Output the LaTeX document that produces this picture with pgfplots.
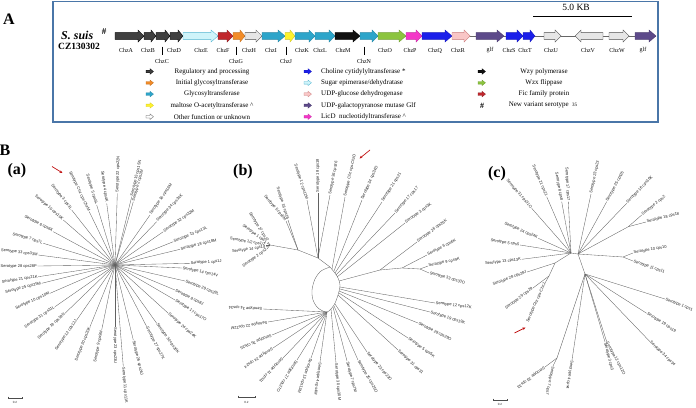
\documentclass[border=0pt]{standalone}
\usepackage{fontspec}
\setmainfont{Liberation Serif}
\newfontfamily\sfl{Liberation Sans}
\usepackage{pgfplots}
\pgfplotsset{compat=1.18}
\usetikzlibrary{arrows.meta}
\definecolor{cReg}{HTML}{404040}
\definecolor{cSug}{HTML}{CFF4FA}
\definecolor{cSugD}{HTML}{4FB3CF}
\definecolor{cFic}{HTML}{C1272D}
\definecolor{cIni}{HTML}{F28C28}
\definecolor{cOth}{HTML}{E6E6E6}
\definecolor{cGT}{HTML}{2DA5CA}
\definecolor{cYel}{HTML}{FFF22E}
\definecolor{cWzy}{HTML}{111111}
\definecolor{cWzx}{HTML}{8CC43F}
\definecolor{cLic}{HTML}{F436C8}
\definecolor{cCho}{HTML}{1B1FEA}
\definecolor{cUdg}{HTML}{F9C6C6}
\definecolor{cUdgD}{HTML}{C87878}
\definecolor{cGlf}{HTML}{5D4A8A}
\definecolor{cBox}{HTML}{4A76A8}
\definecolor{cRed}{HTML}{C01010}
\tikzset{tr/.style={draw=black!62,line width=0.35pt},
 tl/.style={font=\sfl\fontsize{4}{4.5}\selectfont,inner sep=0.6pt,text=black!88}}
% gene arrow: x start, x end, head start, fill, draw
\newcommand\gene[5]{\addplot[fill=#4,draw=#5,line width=0.35pt] coordinates {(#1,32.6) (#3,32.6) (#3,30) (#2,36) (#3,42) (#3,39.4) (#1,39.4)} -- cycle;}
\newcommand\gl[3]{\node[font=\fontsize{6}{7}\selectfont,inner sep=0pt] at (#1,#2) {#3};}
\newcommand\icon[4]{\pgfmathsetmacro\xa{#1+4}\pgfmathsetmacro\xb{#1+7.5}\pgfmathsetmacro\ya{#2-1.3}\pgfmathsetmacro\yb{#2+1.3}\pgfmathsetmacro\yc{#2-2.8}\pgfmathsetmacro\yd{#2+2.8}%
\addplot[fill=#3,draw=#4,line width=0.3pt] coordinates {(#1,\ya) (\xa,\ya) (\xa,\yc) (\xb,#2) (\xa,\yd) (\xa,\yb) (#1,\yb)} -- cycle;}
\newcommand\lt[1]{\node[font=\fontsize{7}{8}\selectfont,inner sep=0pt] at #1}
\newcommand\br[4]{\addplot[tr] coordinates {(#1,#2) (#3,#4)};}
\newcommand\lf[7]{\br{#1}{#2}{#3}{#4}\node[tl,rotate=#5,anchor=#6] at (#3,#4) {#7};}
\begin{document}
\begin{tikzpicture}
\useasboundingbox (0,0) rectangle (696pt,407pt);
\begin{axis}[at={(0,0)},anchor=south west,scale only axis,width=696pt,height=407pt,
 xmin=0,xmax=696,ymin=0,ymax=407,y dir=reverse,hide axis,clip=false]
% ---------- Panel A ----------
\addplot[draw=cBox,line width=1.1pt] coordinates {(53,1.8) (658,1.8) (658,122) (53,122)} -- cycle;
\node[font=\bfseries\fontsize{16}{18}\selectfont,inner sep=0pt] at (9,19) {A};
\node[font=\bfseries\itshape\fontsize{12}{14}\selectfont,inner sep=0pt,anchor=base west] at (61,39) {S. suis};
\node[font=\bfseries\fontsize{9}{10}\selectfont,inner sep=0pt] at (104,32) {\#};
\node[font=\bfseries\fontsize{9.5}{11}\selectfont,inner sep=0pt] at (79,46.5) {CZ130302};
\node[font=\fontsize{9.5}{11}\selectfont,inner sep=0pt] at (576,7.5) {5.0 KB};
\addplot[black,line width=0.8pt] coordinates {(533,16) (632,16)};
\addplot[black!60,line width=0.5pt] coordinates {(115,36) (656,36)};
\gene{115}{144}{138}{cReg}{black}
\gene{144}{156}{151}{cReg}{black}
\gene{156}{170}{165}{cReg}{black}
\gene{170}{183}{178}{cReg}{black}
\gene{183}{218}{211}{cSug}{cSugD}
\gene{218}{233}{227}{cFic}{cFic!70!black}
\gene{233}{245}{240}{cIni}{cIni!80!black}
\gene{245}{262}{256}{cOth}{black!70}
\gene{262}{285}{278}{cGT}{cGT!80!black}
\gene{285}{295}{290}{cYel}{cYel!80!black}
\gene{295}{315}{309}{cGT}{cGT!80!black}
\gene{315}{335}{329}{cGT}{cGT!80!black}
\gene{335}{360}{353}{cWzy}{black}
\gene{360}{378}{372}{cGT}{cGT!80!black}
\gene{378}{406}{399}{cWzx}{cWzx!80!black}
\gene{406}{422}{416}{cLic}{cLic!80!black}
\gene{422}{452}{445}{cCho}{cCho!80!black}
\gene{452}{470}{464}{cUdg}{cUdgD}
\gene{476}{504}{497}{cGlf}{cGlf!80!black}
\gene{506}{523}{517}{cCho}{cCho!80!black}
\gene{523}{535}{530}{cCho}{cCho!80!black}
\gene{544}{561}{555}{cOth}{black!70}
\gene{603}{575}{581}{cOth}{black!70}
\gene{609}{629}{623}{cOth}{black!70}
\gene{635}{656}{649}{cGlf}{cGlf!80!black}
% gene labels
\gl{126}{50.5}{ChzA}\gl{148}{50.5}{ChzB}\gl{174}{50.5}{ChzD}\gl{201}{50.5}{ChzE}
\gl{223}{50.5}{ChzF}\gl{249}{50.5}{ChzH}\gl{271}{50.5}{ChzI}\gl{302}{50.5}{ChzK}
\gl{320}{50.5}{ChzL}\gl{343}{50.5}{ChzM}\gl{385}{50.5}{ChzO}\gl{410}{50.5}{ChzP}
\gl{435}{50.5}{ChzQ}\gl{458}{50.5}{ChzR}\gl{490}{50.5}{glf}\gl{509}{50.5}{ChzS}
\gl{525}{50.5}{ChzT}\gl{551}{50.5}{ChzU}\gl{588}{50.5}{ChzV}\gl{617}{50.5}{ChzW}
\gl{643}{50.5}{glf}
\gl{162}{61}{ChzC}\gl{236}{61}{ChzG}\gl{286}{61}{ChzJ}\gl{364}{61}{ChzN}
\addplot[black,line width=0.4pt] coordinates {(162,46.5) (162,55)};
\addplot[black,line width=0.4pt] coordinates {(236,46.5) (236,55)};
\addplot[black,line width=0.4pt] coordinates {(286,46.5) (286,55)};
\addplot[black,line width=0.4pt] coordinates {(364,46.5) (364,55)};
% legend
\icon{146}{71.5}{cReg}{black}
\icon{146}{82.8}{cIni}{cIni!80!black}
\icon{146}{94.1}{cGT}{cGT!80!black}
\icon{146}{105.4}{cYel}{cYel!85!black}
\icon{146}{116.7}{white}{black!70}
\icon{304}{71.5}{cCho}{cCho!80!black}
\icon{304}{82.8}{cSug}{cSugD}
\icon{304}{94.1}{cUdg}{cUdgD}
\icon{304}{105.4}{cGlf}{cGlf!80!black}
\icon{304}{116.7}{cLic}{cLic!80!black}
\icon{478}{71.5}{cWzy}{black}
\icon{478}{82.8}{cWzx}{cWzx!80!black}
\icon{478}{94.1}{cFic}{cFic!70!black}
\node[font=\bfseries\fontsize{8}{9}\selectfont,inner sep=0pt] at (482,105.4) {\#};
\lt{(212,71.5)} {Regulatory and processing};
\lt{(212,82.8)} {Initial glycosyltransferase};
\lt{(212,94.1)} {Glycosyltransferase};
\lt{(212,105.4)} {maltose O-acetyltransferase \textasciicircum};
\lt{(212,116.7)} {Other function or unknown};
\node[font=\fontsize{7}{8}\selectfont,inner sep=0pt,anchor=west] at (321,71.5) {Choline cytidylyltransferase *};
\node[font=\fontsize{7}{8}\selectfont,inner sep=0pt,anchor=west] at (321,82.8) {Sugar epimerase/dehydratase};
\node[font=\fontsize{7}{8}\selectfont,inner sep=0pt,anchor=west] at (321,94.1) {UDP-glucose dehydrogenase};
\node[font=\fontsize{7}{8}\selectfont,inner sep=0pt,anchor=west] at (321,105.4) {UDP-galactopyranose mutase Glf};
\node[font=\fontsize{7}{8}\selectfont,inner sep=0pt,anchor=west] at (321,116.7) {LicD\ \ nucleotidyltransferase \textasciicircum};
\lt{(544,71.5)} {Wzy polymerase};
\lt{(544,82.8)} {Wzx flippase};
\lt{(544,94.1)} {Fic family protein};
\lt{(543,105.4)} {New variant serotype\ \ {\fontsize{5}{6}\selectfont 35}};
% ---------- Panel B ----------
\node[font=\bfseries\fontsize{16}{18}\selectfont,inner sep=0pt] at (5,150) {B};
\node[font=\bfseries\fontsize{16}{18}\selectfont,inner sep=0pt] at (17,171) {(a)};
\node[font=\bfseries\fontsize{16}{18}\selectfont,inner sep=0pt] at (243,172) {(b)};
\node[font=\bfseries\fontsize{16}{18}\selectfont,inner sep=0pt] at (497,174) {(c)};
% tree (a): star tree
\lf{115}{265}{89.3}{211.7}{-64.3}{east}{Serotype Chz cps-ChzM}
\lf{115}{265}{96.7}{205}{-73}{east}{Serotype 5 cps5L}
\lf{115}{265}{106.7}{203.3}{-82.3}{east}{Serotype 4 cps4K}
\lf{115}{265}{117.3}{193.3}{88.2}{west}{Serotype 22 cps22N}
\lf{115}{265}{131.7}{196.7}{76.3}{west}{Serotype 15 cps15N}
\lf{115}{265}{133.3}{201.7}{73.9}{west}{Serotype 2 cps2M}
\lf{115}{265}{150}{215}{55}{west}{Serotype 16 cps16M}
\lf{115}{265}{156.7}{221.7}{46.1}{west}{Serotype 34 cps34K}
\lf{115}{265}{163.3}{231.7}{34.6}{west}{Serotype 32 cps32M}
\lf{115}{265}{173.3}{241.7}{21.8}{west}{Serotype 13 cps13L}
\lf{115}{265}{180}{249.3}{13.6}{west}{Serotype 18 cps18M}
\lf{115}{265}{190}{263.3}{3}{west}{Serotype 1 cps1J}
\lf{115}{265}{182}{268}{-12}{west}{Serotype 14 cps14V}
\lf{115}{265}{185}{281}{-22}{west}{Serotype 29 cps29L}
\lf{115}{265}{175}{290}{-28}{west}{Serotype 8 cps8J}
\lf{115}{265}{175}{300}{-34}{west}{Serotype 17 cps17O}
\lf{115}{265}{168.3}{313.3}{-42.2}{west}{Serotype 24 cps24K}
\lf{115}{265}{156.7}{323.3}{-54.4}{west}{Serotype 30 cps30K}
\lf{115}{265}{146.7}{326.7}{-62.8}{west}{Serotype 27 cps27K}
\lf{115}{265}{133.3}{340}{-76.3}{west}{Serotype 26 cps26J}
\lf{115}{265}{123.3}{366.7}{-85.3}{west}{Serotype 11 cps11K}
\lf{115}{265}{115}{326.7}{-90}{west}{Serotype 23 cps23U}
\lf{115}{265}{101.7}{330}{78.4}{east}{Serotype 9 cps9M}
\lf{115}{265}{90}{326.7}{67.9}{east}{Serotype 20 cps20K}
\lf{115}{265}{76.7}{320}{55.1}{east}{Serotype 12 cps12J}
\lf{115}{265}{65}{313.3}{44}{east}{Serotype 19 cps19N}
\lf{115}{265}{55}{306.7}{34.8}{east}{Serotype 31 cps31L}
\lf{115}{265}{50}{293.3}{23.5}{east}{Serotype 10 cps10M}
\lf{115}{265}{41.7}{283.3}{14}{east}{Serotype 25 cps25M}
\lf{115}{265}{38.3}{276.7}{8.7}{east}{Serotype 21 cps21K}
\lf{115}{265}{37.5}{266}{0.7}{east}{Serotype 28 cps28P}
\lf{115}{265}{38.3}{255}{-7.4}{east}{Serotype 33 cps33M}
\lf{115}{265}{43.3}{243.3}{-16.8}{east}{Serotype 7 cps7L}
\lf{115}{265}{53.3}{231.7}{-28.4}{east}{Serotype 6 cps6K}
\lf{115}{265}{63.3}{220}{-41}{east}{Serotype 10 cps10K}
\lf{115}{265}{71.7}{210}{-51.8}{east}{Serotype 3 cps3L}
\addplot[cRed,line width=0.7pt,-{Stealth[length=3pt,width=2.6pt]}] coordinates {(52,166.5) (62.5,173)};
\addplot[black!70,line width=0.4pt] coordinates {(8,396.5) (8,398) (22,398) (22,396.5)};
\node[tl,font=\sfl\fontsize{3}{3.5}\selectfont] at (15,402.5) {0.2};
% tree (b)
\addplot[tr,smooth] coordinates {(330,267) (321,271) (315,279) (312,290) (313,300) (318,308) (327,312) (334,305) (338,295) (340,285) (337,276) (330,267)};
\br{330}{267}{318}{258}\br{318}{258}{298}{250}\br{298}{250}{270}{245}
\lf{318}{258}{307}{200}{-72}{east}{Serotype 12 cps12M}
\lf{318}{258}{318}{193}{90}{west}{Serotype 18 cps18}
\lf{318}{258}{330}{195}{79}{west}{Serotype 36 cps36}
\lf{298}{250}{288}{220}{-72}{east}{Serotype 16 cps16}
\lf{298}{250}{286}{221}{-50}{east}{Serotype 5 cps5M}
\lf{270}{245}{268}{242}{-58}{east}{Serotype 27 cps27}
\lf{270}{245}{267}{243}{-36}{east}{Serotype 1 cps1}
\lf{270}{245}{266}{245}{-10}{east}{Serotype 1/2 cps1/2}
\lf{270}{245}{266}{247}{8}{east}{Serotype 14 cps14}
\lf{270}{245}{267}{249}{36}{east}{Serotype 2 cps2}
\lf{332}{269}{345}{197}{77}{west}{Serotype Chz cps-ChzD}
\lf{334}{271}{362}{200}{66}{west}{Serotype 34 cps34D}
\lf{335}{273}{382}{202}{57}{west}{Serotype 21 cps21}
\lf{336}{275}{395}{213}{48}{west}{Serotype 17 cps17}
\lf{337}{277}{405}{223}{36}{west}{Serotype 3 cps3K}
\br{339}{281}{380}{270}\br{380}{270}{402}{268}\br{402}{268}{420}{269}
\lf{380}{270}{417}{242}{36}{west}{Serotype 26 cps26K}
\lf{402}{268}{427}{255}{27}{west}{Serotype 6 cps6K}
\lf{420}{269}{428}{266}{12}{west}{Serotype 9 cps9K}
\lf{420}{269}{429}{273}{-16}{west}{Serotype 33 cps33O}
\lf{340}{287}{435}{303}{-7}{west}{Serotype 12 cps12K}
\lf{340}{289}{430}{312}{-18}{west}{Serotype 19 cps19K}
\lf{339}{291}{418}{323}{-27}{west}{Serotype 29 cps29O}
\lf{339}{293}{408}{338}{-36}{west}{Serotype 5 cps5K}
\lf{338}{295}{398}{350}{-44}{west}{Serotype 31 cps31}
\lf{335}{304}{367}{352}{-50}{west}{Serotype 23 cps23O}
\lf{334}{306}{358}{360}{-60}{west}{Serotype 25 cps25O}
\lf{333}{307}{347}{361}{-75}{west}{Serotype 7 cps7M}
\lf{331}{309}{336}{363}{-85}{west}{Serotype 30 cps30M}
\lf{327}{312}{263}{309}{177}{west}{Serotype 34 cps34}
\lf{327}{312}{268}{322}{190}{west}{Serotype 22 cps22M}
\lf{327}{312}{272}{335}{203}{west}{Serotype 35 cps35}
\lf{327}{312}{273}{348}{214}{west}{Serotype 24 cps24}
\lf{327}{312}{283}{358}{226}{west}{Serotype 11 cps11}
\lf{327}{312}{297}{360}{238}{west}{Serotype 27 cps27O}
\lf{327}{312}{311}{358}{251}{west}{Serotype 13 cps13M}
\lf{327}{312}{320}{362}{262}{west}{Serotype 4 cps4M}
\addplot[cRed,line width=0.7pt,-{Stealth[length=3pt,width=2.6pt]}] coordinates {(370,150) (359.5,158.5)};
\addplot[black!70,line width=0.4pt] coordinates {(238,395.5) (238,397) (255,397) (255,395.5)};
\node[tl,font=\sfl\fontsize{3}{3.5}\selectfont] at (246.5,402) {0.2};
% tree (c)
\br{571}{253}{578}{254}\br{571}{253}{555}{263}\br{555}{263}{549}{276}
\br{578}{254}{628.3}{226.7}\br{578}{254}{623}{257}\br{578}{254}{585}{274}\br{585}{274}{557}{358}
\lf{571}{253}{531.7}{208.3}{-48.7}{east}{Serotype 31 cps31O}
\lf{571}{253}{546.7}{196.7}{-66.7}{east}{Serotype 21 cps21}
\lf{571}{253}{561.7}{201.7}{-79.7}{east}{Serotype 8 cps8}
\lf{571}{253}{568.3}{201.7}{-87}{east}{Serotype 17 cps17}
\lf{571}{253}{538.3}{238.3}{-24.2}{east}{Serotype 24 cps24K}
\lf{571}{253}{520}{245}{-9}{east}{Serotype 5 cps5}
\lf{571}{253}{521.7}{259.3}{7.3}{east}{Serotype 13 cps13K}
\lf{555}{263}{527}{272}{20}{east}{Serotype 28 cps28J}
\lf{549}{276}{533}{288}{37}{east}{Serotype 29 cps29}
\lf{549}{276}{545}{283}{66}{east}{Serotype Chz cps-ChzJ}
\lf{578}{254}{591}{194}{77.8}{west}{Serotype 23 cps23}
\lf{578}{254}{606.7}{201.7}{61.2}{west}{Serotype 25 cps25}
\lf{578}{254}{626.7}{203.3}{46.2}{west}{Serotype 16 cps16K}
\lf{628.3}{226.7}{641.7}{215}{38}{west}{Serotype 2 cps2}
\lf{628.3}{226.7}{646}{222}{14}{west}{Serotype 18 cps18}
\lf{623}{257}{633}{253}{10}{west}{Serotype 10 cps10}
\lf{623}{257}{633}{261}{-20}{west}{Serotype 11 cps11}
\lf{585}{274}{665}{299}{-22}{west}{Serotype 1 cps1}
\lf{585}{274}{646.7}{313.3}{-32.5}{west}{Serotype 19 cps19}
\lf{585}{274}{650}{341.7}{-44}{west}{Serotype 34 cps34}
\lf{585}{274}{606.7}{341.7}{-62}{west}{Serotype 12 cps12O}
\lf{585}{274}{605}{342}{-76}{west}{Serotype 3 cps3}
\lf{585}{274}{572}{360}{261}{west}{Serotype 4 cps4}
\lf{557}{358}{545}{367}{217}{west}{Serotype 33 cps33}
\lf{557}{358}{553}{366}{258}{west}{Serotype 7 cps7}
\addplot[cRed,line width=0.7pt,-{Stealth[length=3pt,width=2.6pt]}] coordinates {(514.5,333) (525.5,327.5)};
\addplot[black!70,line width=0.4pt] coordinates {(493,398.5) (493,400) (507,400) (507,398.5)};
\node[tl,font=\sfl\fontsize{3}{3.5}\selectfont] at (500,404.5) {0.2};
\end{axis}
\end{tikzpicture}
\end{document}
